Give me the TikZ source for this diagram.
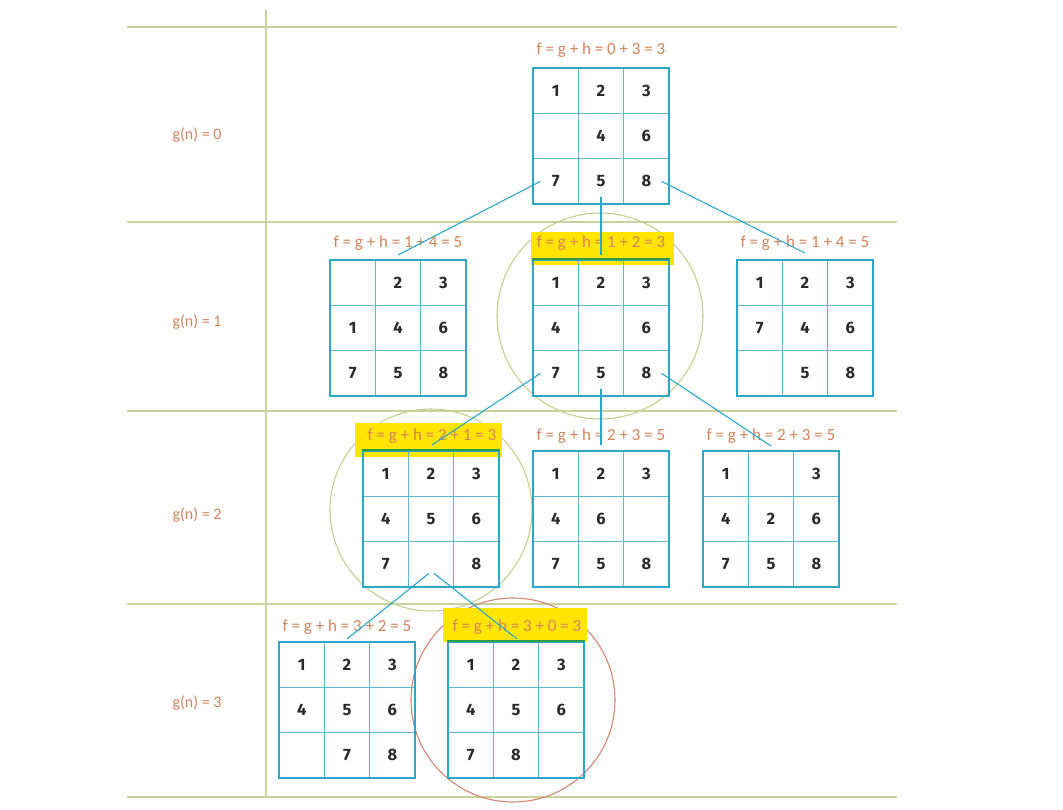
\documentclass[tikz,border=0pt]{standalone}
\usepackage{fontspec}
\setmainfont{Carlito}
\newfontfamily\numfont{Fira Sans}
\usetikzlibrary{calc}
\definecolor{gridc}{HTML}{C8D29A}
\definecolor{cyanb}{HTML}{2AA7C9}
\definecolor{cyanl}{HTML}{5BB9D2}
\definecolor{labc}{HTML}{D4835C}
\definecolor{hl}{HTML}{FFE500}
\definecolor{circg}{HTML}{C5CF8E}
\definecolor{circr}{HTML}{D08672}
\definecolor{topg}{HTML}{2E9B45}
\definecolor{numc}{HTML}{2A2A2A}
\tikzset{
  gridline/.style={draw=gridc, line width=1.2pt},
  boardbox/.style={draw=cyanb, line width=2.4pt, minimum size=136pt, inner sep=0pt, rectangle},
  cellline/.style={draw=cyanl, line width=1.1pt},
  cell/.style={minimum size=30pt, inner sep=0pt, font=\numfont\bfseries\fontsize{16.5}{16.5}\selectfont, text=numc},
  flabel/.style={font=\fontsize{17}{17}\selectfont, text=labc, inner sep=0pt},
  glabel/.style={font=\fontsize{16}{16}\selectfont, text=labc, inner sep=0pt},
  link/.style={draw=cyanb, line width=1.1pt},
  hlbox/.style={fill=hl, draw=none},
  ring/.style={line width=1.1pt},
}
\newcommand\puzzle[4]{%
  \draw[cellline] (#2+45.33,#3) -- (#2+45.33,#3+136);
  \draw[cellline] (#2+90.67,#3) -- (#2+90.67,#3+136);
  \draw[cellline] (#2,#3+45.33) -- (#2+136,#3+45.33);
  \draw[cellline] (#2,#3+90.67) -- (#2+136,#3+90.67);
  \node[boardbox] (#1) at (#2+68,#3+68) {};
  \foreach \v [count=\i from 0] in {#4} {
    \pgfmathtruncatemacro\cc{mod(\i,3)}
    \pgfmathtruncatemacro\rr{\i/3}
    \node[cell] (#1-\i) at (#2+22.67+45.33*\cc, #3+22.67+45.33*\rr) {\v};
  }
}
\begin{document}
\begin{tikzpicture}[x=1pt,y=-1pt]
\useasboundingbox (0,0) rectangle (1063,810);
\fill[white] (0,0) rectangle (1063,810);
% grid
\draw[gridline] (127,27) -- (897,27);
\draw[gridline] (127,222) -- (897,222);
\draw[gridline] (127,411) -- (897,411);
\draw[gridline] (127,604) -- (897,604);
\draw[gridline] (127,797) -- (897,797);
\draw[gridline] (266,10) -- (266,797);
% level labels
\node[glabel] (g0) at (197,135) {g(n) = 0};
\node[glabel] (g1) at (197,322) {g(n) = 1};
\node[glabel] (g2) at (197,515) {g(n) = 2};
\node[glabel] (g3) at (197,703) {g(n) = 3};
% circles
\draw[ring, circg] (600,316) circle[radius=103];
\draw[ring, circg] (431,510) circle[radius=101];
\draw[ring, circr] (513,700) circle[radius=102];
% highlights
\fill[hlbox] (531,232) rectangle (674,265);
\fill[hlbox] (355,423) rectangle (502,457);
\fill[hlbox] (443,608) rectangle (587,642);
% boards
\puzzle{t}{533}{68}{1,2,3,,4,6,7,5,8}
\puzzle{a}{330}{260}{,2,3,1,4,6,7,5,8}
\puzzle{b}{533}{260}{1,2,3,4,,6,7,5,8}
\puzzle{c}{737}{260}{1,2,3,7,4,6,,5,8}
\puzzle{d}{363}{451}{1,2,3,4,5,6,7,,8}
\puzzle{e}{533}{451}{1,2,3,4,6,,7,5,8}
\puzzle{f}{703}{451}{1,,3,4,2,6,7,5,8}
\puzzle{g}{279}{642}{1,2,3,4,5,6,,7,8}
\puzzle{h}{448}{642}{1,2,3,4,5,6,7,8,}
\draw[topg, line width=2.4pt] (b.north west) -- (b.north east);
\draw[topg, line width=2.4pt] (d.north west) -- (d.north east);
\draw[topg, line width=2.4pt] (h.north west) -- (h.north east);
% f labels
\node[flabel] (l0) at (601,50) {f = g + h = 0 + 3 = 3};
\node[flabel] (l1a) at (398,243) {f = g + h = 1 + 4 = 5};
\node[flabel] (l1b) at (601,243) {f = g + h = 1 + 2 = 3};
\node[flabel] (l1c) at (805,243) {f = g + h = 1 + 4 = 5};
\node[flabel] (l2a) at (432,436) {f = g + h = 2 + 1 = 3};
\node[flabel] (l2b) at (601,436) {f = g + h = 2 + 3 = 5};
\node[flabel] (l2c) at (771,436) {f = g + h = 2 + 3 = 5};
\node[flabel] (l3a) at (347,627) {f = g + h = 3 + 2 = 5};
\node[flabel] (l3b) at (517,627) {f = g + h = 3 + 0 = 3};
% connectors
\coordinate (dblank) at ($(d-7)+(0,9)$);
\draw[link] (t-6.west) -- ($(l1a)+(0,12)$);
\draw[link] (t-7.south) -- ($(l1b)+(0,12)$);
\draw[link] (t-8.east) -- ($(l1c)+(0,10)$);
\draw[link] (b-6.west) -- ($(l2a)+(0,9)$);
\draw[link] (b-7.south) -- ($(l2b)+(0,9)$);
\draw[link] (b-8.east) -- ($(l2c)+(0,10)$);
\draw[link] ($(dblank)+(-2,0)$) -- ($(l3a)+(0,12)$);
\draw[link] ($(dblank)+(3,0)$) -- ($(l3b)+(0,12)$);
\end{tikzpicture}
\end{document}
